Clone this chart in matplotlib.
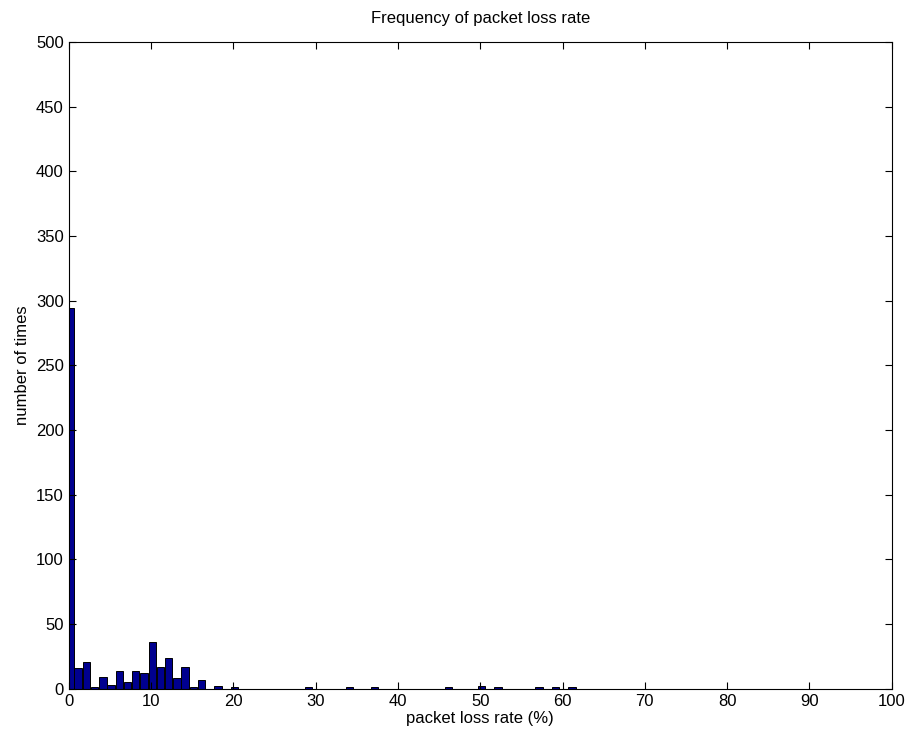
import matplotlib
matplotlib.use("Agg")
import matplotlib.pyplot as plt
import numpy as np

plt.rcParams["font.family"] = ["Liberation Sans", "DejaVu Sans"]

# histogram bins (left index of each 1% bin) and counts
bin_index = [0, 1, 2, 3, 4, 5, 6, 7, 8, 9, 10, 11, 12, 13, 14, 15, 16, 18, 20,
             29, 34, 37, 46, 50, 52, 57, 59, 61]
counts = [294, 16, 21, 1, 9, 3, 14, 5, 14, 12, 36, 17, 24, 8, 17, 1, 7, 2, 1,
          1, 1, 1, 1, 2, 1, 1, 1, 1]
BIN_OFFSET = 0.15

x_ticks = np.arange(0, 101, 10)
y_ticks = np.arange(0, 501, 50)

fig = plt.figure(figsize=(9.1, 7.4), dpi=100)
ax = fig.add_axes([0.0755, 0.0693, 0.9045, 0.874])

ax.bar(np.array(bin_index) + BIN_OFFSET, counts, width=0.9,
       color="#00008f", edgecolor="black", linewidth=0.7)

ax.set_xlim(0, 100)
ax.set_ylim(0, 500)
ax.set_xticks(x_ticks)
ax.set_yticks(y_ticks)
ax.tick_params(direction="in", top=True, right=True, labelsize=12, length=5)
for s in ax.spines.values():
    s.set_linewidth(0.8)

ax.set_title("Frequency of packet loss rate", fontsize=12, pad=14)
ax.set_xlabel("packet loss rate (%)", fontsize=12, labelpad=2)
ax.set_ylabel("number of times", fontsize=12, labelpad=4)

fig.savefig("out.png", dpi=100)
